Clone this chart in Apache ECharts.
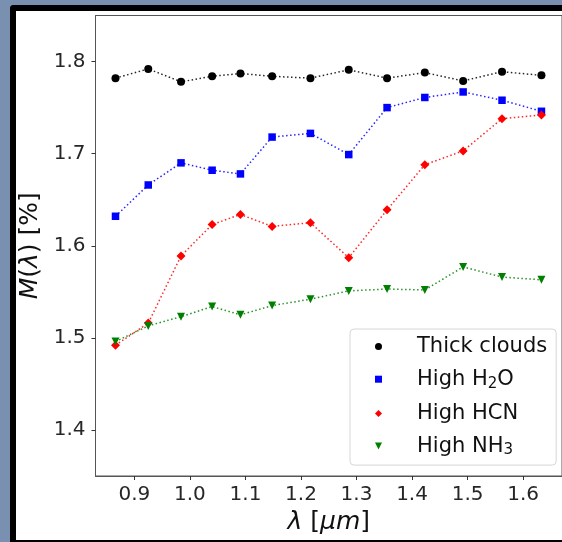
<!DOCTYPE html>
<html>
<head>
<meta charset="utf-8">
<script src="https://cdn.jsdelivr.net/npm/echarts@6/dist/echarts.min.js"></script>
<style>
  html, body { margin: 0; padding: 0; background: #7990b0; }
  #frame {
    position: absolute; left: 10px; top: 5px; width: 560px; height: 529px;
    background: #fff; border-left: 6px solid #000; border-top: 6px solid #000;
    border-bottom: 2px solid #000; border-top-left-radius: 4px;
  }
  #chart { position: absolute; left: 0; top: 0; width: 562px; height: 542px; }
</style>
</head>
<body>
<div id="frame"></div>
<div id="chart"></div>
<script>
// wavelength bins (micron)
const wavelengths = [0.866, 0.925, 0.984, 1.040, 1.091, 1.148, 1.217, 1.286, 1.355, 1.423, 1.492, 1.562, 1.633];

const thickClouds = [1.782, 1.792, 1.778, 1.784, 1.787, 1.784, 1.782, 1.791, 1.782, 1.788, 1.779, 1.789, 1.785];
const highH2O = [1.632, 1.666, 1.690, 1.682, 1.678, 1.718, 1.722, 1.699, 1.750, 1.761, 1.767, 1.758, 1.746];
const highHCN = [1.492, 1.516, 1.589, 1.623, 1.634, 1.621, 1.625, 1.587, 1.639, 1.688, 1.703, 1.738, 1.742];
const highNH3 = [1.496, 1.513, 1.523, 1.534, 1.525, 1.535, 1.542, 1.551, 1.553, 1.552, 1.577, 1.566, 1.563];

const seriesNames = ['Thick clouds', 'High H2O', 'High HCN', 'High NH3'];
const legendLabels = ['{n|Thick clouds}', '{n|High H}{s|2}{n|O}', '{n|High HCN}', '{n|High NH}{s|3}'];

const xTicks = [0.9, 1.0, 1.1, 1.2, 1.3, 1.4, 1.5, 1.6];
const yTicks = [1.4, 1.5, 1.6, 1.7, 1.8];

const chart = echarts.init(document.getElementById('chart'));

const pairs = (ys) => wavelengths.map((x, i) => [x, ys[i]]);
const mkSeries = (name, ys, color, symbol, size, rotate) => ({
  name: name,
  type: 'line',
  data: pairs(ys),
  symbol: symbol,
  symbolSize: size,
  symbolRotate: rotate || 0,
  showSymbol: true,
  itemStyle: { color: color },
  lineStyle: { color: color, width: 1.5, type: [1.5, 2.5], opacity: 0.85 },
  emphasis: { disabled: true }
});

const tickFont = { fontFamily: 'DejaVu Sans', fontSize: 20, color: '#262626' };
const titleRich = {
  n: { fontFamily: 'DejaVu Sans', fontSize: 25, color: '#111' },
  i: { fontFamily: 'DejaVu Sans', fontSize: 25, fontStyle: 'italic', color: '#111' }
};

const option = {
  animation: false,
  grid: {
    left: 95.5, top: 15.5, right: -5.5, bottom: 66,
    show: true, borderColor: '#555', borderWidth: 1, backgroundColor: 'transparent'
  },
  xAxis: {
    type: 'value',
    min: 0.83,
    max: 1.67,
    axisLine: { show: true, lineStyle: { color: '#555', width: 1 } },
    axisTick: { show: true, customValues: xTicks, length: 4, lineStyle: { color: '#333' } },
    axisLabel: Object.assign({ customValues: xTicks, margin: 9, formatter: v => v.toFixed(1) }, tickFont),
    splitLine: { show: false },
    name: '{i|λ}{n| [}{i|μm}{n|]}',
    nameLocation: 'middle',
    nameGap: 34,
    nameTextStyle: { rich: titleRich }
  },
  yAxis: {
    type: 'value',
    min: 1.35,
    max: 1.85,
    axisLine: { show: true, lineStyle: { color: '#555', width: 1 } },
    axisTick: { show: true, customValues: yTicks, length: 4, lineStyle: { color: '#333' } },
    axisLabel: Object.assign({ customValues: yTicks, margin: 10, formatter: v => v.toFixed(1) }, tickFont),
    splitLine: { show: false },
    name: '{i|M}{n|(}{i|λ}{n|) [%]}',
    nameLocation: 'middle',
    nameRotate: 90,
    nameGap: 48,
    nameTextStyle: { rich: titleRich }
  },
  legend: {
    orient: 'vertical',
    left: 350,
    top: 329,
    padding: [7, 9, 7, 25],
    itemGap: 11.7,
    itemWidth: 7,
    itemHeight: 7,
    backgroundColor: '#fff',
    borderColor: '#d6d6d6',
    borderWidth: 1,
    borderRadius: 4,
    selectedMode: false,
    data: [
      { name: seriesNames[0], icon: 'circle' },
      { name: seriesNames[1], icon: 'rect' },
      { name: seriesNames[2], icon: 'diamond' },
      { name: seriesNames[3], icon: 'path://M0,0L10,0L5,10Z' }
    ],
    formatter: name => legendLabels[seriesNames.indexOf(name)],
    textStyle: {
      padding: [0, 0, 0, 30],
      rich: {
        n: { fontFamily: 'DejaVu Sans', fontSize: 21, lineHeight: 24, color: '#111' },
        s: { fontFamily: 'DejaVu Sans', fontSize: 15, lineHeight: 12, verticalAlign: 'bottom', color: '#111' }
      }
    }
  },
  series: [
    mkSeries(seriesNames[0], thickClouds, '#000000', 'circle', 8),
    mkSeries(seriesNames[1], highH2O, '#0000ff', 'rect', 7.5),
    mkSeries(seriesNames[2], highHCN, '#ff0000', 'diamond', 9),
    mkSeries(seriesNames[3], highNH3, '#008000', 'triangle', 8, 180)
  ]
};

chart.setOption(option);
</script>
</body>
</html>
